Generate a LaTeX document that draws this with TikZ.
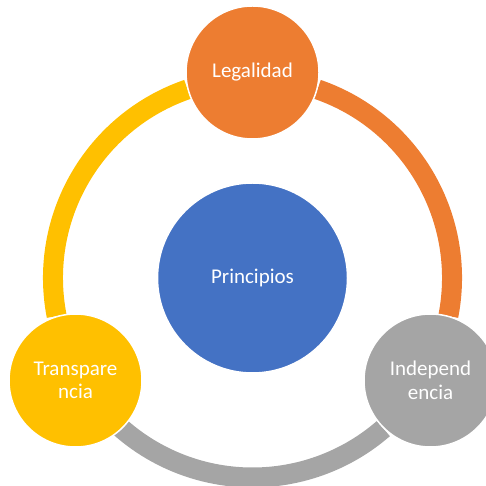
\documentclass[tikz,border=0pt]{standalone}
\usepackage{fontspec}
\setmainfont{Carlito}

\definecolor{legcol}{HTML}{ED7D31}
\definecolor{indcol}{HTML}{A5A5A5}
\definecolor{tracol}{HTML}{FFC000}
\definecolor{princol}{HTML}{4472C4}

\tikzset{
    bubble/.style={circle, draw=white, line width=1.5pt, text=white, inner sep=0pt,
        minimum size=133pt, align=center, font=\fontsize{21}{23.5}\selectfont},
    ring/.style={line width=20pt}
}

\begin{document}
\begin{tikzpicture}[x=1pt, y=1pt]
    \useasboundingbox (0,0) rectangle (486,486);
    \clip (0,0) rectangle (486,486);

    \node[bubble, fill=princol, minimum size=190pt] (prin) at (252.5,208){Principios};

    % arcs of the cycle
    \draw[ring, legcol] (prin.center) ++(71:199.5) arc[start angle=71, end angle=-11, radius=199.5];
    \draw[ring, indcol] (prin.center) ++(-49:199.5) arc[start angle=-49, end angle=-161, radius=199.5];
    \draw[ring, tracol] (prin.center) ++(191:199.5) arc[start angle=191, end angle=109, radius=199.5];

    \node[bubble, fill=legcol] (leg) at (252.5,413.5){Legalidad};
    \node[bubble, fill=indcol] (ind) at (430.5,105.5){Independ\\encia};
    \node[bubble, fill=tracol] (tra) at (75.5,105.5){Transpare\\ncia};
\end{tikzpicture}
\end{document}
